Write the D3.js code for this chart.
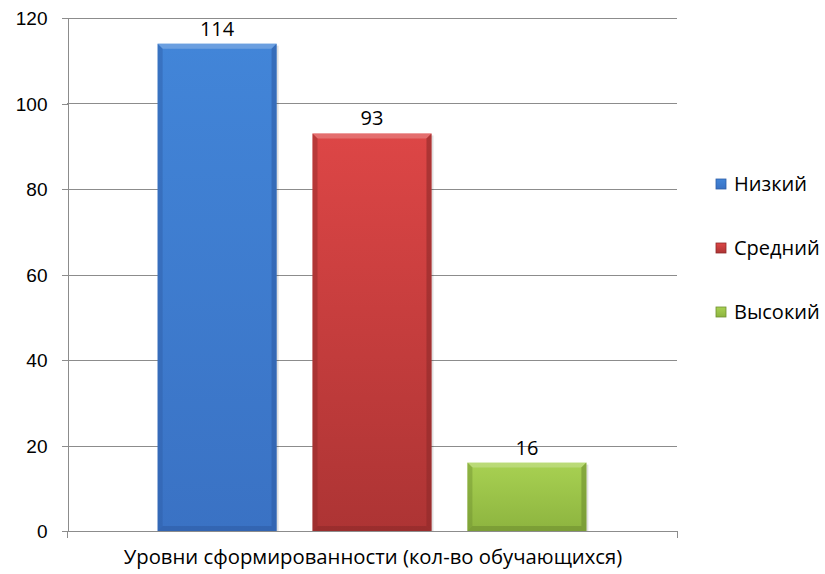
<!doctype html>
<html lang="ru">
<head>
  <meta charset="utf-8">
  <title>Уровни сформированности</title>
  <style>
    body { margin: 0; background: #fff; }
    svg { display: block; font-family: "Open Sans", "Liberation Sans", Arial, sans-serif; }
    .grid line { stroke: #8c8c8c; stroke-width: 1; }
    .axis path, .axis line { stroke: #8c8c8c; shape-rendering: crispEdges; }
    .axis text { fill: #000; font-size: 19px; }
    .axis text.title { font-size: 20.3px; }
    .label { font-size: 20px; fill: #000; }
    .legend text { font-size: 20px; fill: #000; }
  </style>
</head>
<body>
  <div id="chart"></div>
  <script src="https://d3js.org/d3.v7.min.js"></script>
  <script>
(function(){

  // data
  var series = ["Низкий", "Средний", "Высокий"];
  var values = [114, 93, 16];
  var yTicks = [0, 20, 40, 60, 80, 100, 120];
  var axisTitle = "Уровни сформированности (кол-во обучающихся)";

  // colours per series: [top, bottom, edge]
  var colors = [
    ["#4285d8", "#3a72c4", "#2f5ea6"],
    ["#dd4646", "#ad3434", "#8e2a2a"],
    ["#a8d152", "#8db43f", "#6f9030"]
  ];

  var width = 825;
  var height = 574;
  var left = 67, right = 677, top = 18, bottom = 531;

  var svg = d3.select("#chart")
      .append("svg")
      .attr("width", width)
      .attr("height", height);

  var y = d3.scaleLinear().domain([0, 120]).range([bottom, top]);
  var x = d3.scaleBand()
      .domain(series)
      .range([left, right])
      .paddingInner(0.232)
      .paddingOuter(0.585);

  // gradients
  var defs = svg.append("defs");
  series.forEach(function(s, i) {
    var g = defs.append("linearGradient")
        .attr("id", "grad" + i)
        .attr("x1", 0).attr("y1", 0).attr("x2", 0).attr("y2", 1);
    g.append("stop").attr("offset", "0%").attr("stop-color", colors[i][0]);
    g.append("stop").attr("offset", "100%").attr("stop-color", colors[i][1]);
  });

  // gridlines
  svg.append("g")
      .attr("class", "grid")
      .selectAll("line")
      .data(yTicks.filter(function(d) { return d > 0; }))
      .enter()
      .append("line")
      .attr("x1", left).attr("x2", right)
      .attr("y1", function(d) { return Math.round(y(d)) + 0.5; })
      .attr("y2", function(d) { return Math.round(y(d)) + 0.5; });

  // y axis
  svg.append("g")
      .attr("class", "axis")
      .attr("transform", "translate(" + (left + 0.5) + ",0)")
      .call(d3.axisLeft(y).tickValues(yTicks).tickSize(6).tickSizeOuter(0).tickPadding(14))
      .call(function(g) { g.selectAll("text").attr("dy", "0.36em"); });

  // x axis
  var xa = svg.append("g").attr("class", "axis");
  xa.append("line")
      .attr("x1", left).attr("x2", right + 0.5)
      .attr("y1", bottom + 0.5).attr("y2", bottom + 0.5);
  xa.selectAll(".xt")
      .data([left, right])
      .enter()
      .append("line")
      .attr("class", "xt")
      .attr("x1", function(d) { return d + 0.5; })
      .attr("x2", function(d) { return d + 0.5; })
      .attr("y1", bottom).attr("y2", bottom + 7);

  xa.append("text")
      .attr("class", "title")
      .attr("x", (left + right) / 2 + 1)
      .attr("y", bottom + 33)
      .attr("text-anchor", "middle")
      .text(axisTitle);

  // bars
  var bevel = 5;
  var bars = svg.append("g").selectAll("g")
      .data(series)
      .enter()
      .append("g");

  bars.each(function(s, i) {
    var g = d3.select(this);
    var bx = x(s), bw = x.bandwidth();
    var by = y(values[i]), bh = bottom - by;

    // soft shadow
    g.append("rect")
        .attr("x", bx + 2).attr("y", by + 2)
        .attr("width", bw).attr("height", bh - 2)
        .attr("fill", "#000").attr("opacity", 0.12);

    g.append("rect")
        .attr("x", bx).attr("y", by)
        .attr("width", bw).attr("height", bh)
        .attr("fill", "url(#grad" + i + ")");

    var b = Math.min(bevel, bh / 2);
    // top bevel (lighter)
    g.append("polygon")
        .attr("points", [[bx, by], [bx + bw, by], [bx + bw - b, by + b], [bx + b, by + b]].join(" "))
        .attr("fill", "#fff").attr("opacity", 0.22);
    // left bevel
    g.append("polygon")
        .attr("points", [[bx, by], [bx + b, by + b], [bx + b, bottom - b], [bx, bottom]].join(" "))
        .attr("fill", colors[i][2]).attr("opacity", 0.45);
    // right bevel
    g.append("polygon")
        .attr("points", [[bx + bw, by], [bx + bw - b, by + b], [bx + bw - b, bottom - b], [bx + bw, bottom]].join(" "))
        .attr("fill", colors[i][2]).attr("opacity", 0.6);
    // bottom bevel
    g.append("polygon")
        .attr("points", [[bx, bottom], [bx + b, bottom - b], [bx + bw - b, bottom - b], [bx + bw, bottom]].join(" "))
        .attr("fill", colors[i][2]).attr("opacity", 0.6);

    g.append("text")
        .attr("class", "label")
        .attr("x", bx + bw / 2)
        .attr("y", by - 8)
        .attr("text-anchor", "middle")
        .text(values[i]);
  });

  // legend
  var legendY = d3.scalePoint().domain(series).range([184, 312]);
  var legend = svg.append("g")
      .attr("class", "legend")
      .selectAll("g")
      .data(series)
      .enter()
      .append("g")
      .attr("transform", function(d) { return "translate(716," + legendY(d) + ")"; });

  legend.append("rect")
      .attr("x", 0).attr("y", -5)
      .attr("width", 10).attr("height", 10)
      .attr("fill", function(d, i) { return "url(#grad" + i + ")"; })
      .attr("stroke", function(d, i) { return colors[i][2]; })
      .attr("stroke-width", 0.8);

  legend.append("text")
      .attr("x", 18)
      .attr("y", 0)
      .attr("dy", "0.36em")
      .text(function(d) { return d; });

})();
  </script>
</body>
</html>
